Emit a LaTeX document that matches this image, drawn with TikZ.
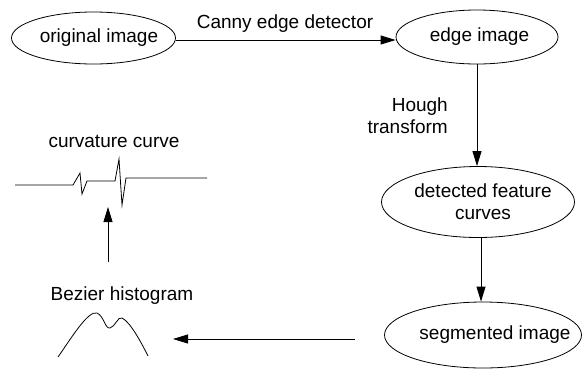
\documentclass[tikz,border=0pt]{standalone}
\usepackage{fontspec}
\setmainfont{Liberation Sans}
\usetikzlibrary{shapes.geometric,arrows.meta}
\newcommand{\zb}[2]{\makebox[0pt]{\hspace*{#1}#2}}
\begin{document}
\begin{tikzpicture}[x=1pt,y=-1pt,
  every node/.style={font=\fontsize{19}{22}\selectfont},
  ell/.style={draw,ellipse,inner sep=0pt,line width=0.8pt},
  conn/.style={line width=0.8pt,-{Triangle[length=15pt,width=9pt]}},
  lbl/.style={align=center,inner sep=0pt},
  plain/.style={line width=0.8pt}]
\useasboundingbox (0,0) rectangle (583,373);
\node[ell,minimum width=164pt,minimum height=52pt] (orig) at (93.5,38) {\zb{11pt}{original image}};
\node[ell,minimum width=162pt,minimum height=54pt] (edge) at (477,37) {\zb{5pt}{edge image}};
\node[ell,minimum width=193pt,minimum height=71pt,align=center] (det) at (478,202) {\zb{10pt}{detected feature}\\\zb{10pt}{curves}};
\node[ell,minimum width=197pt,minimum height=66pt] (seg) at (483,335) {\zb{24pt}{\raisebox{-4pt}{segmented image}}};
\node[lbl,anchor=base] (canny) at (285,28) {Canny edge detector};
\node[lbl,align=right,anchor=north east] (hough) at (448,98) {Hough\\transform};
\node[lbl,anchor=base] (bezl) at (122,300) {Bezier histogram};
\node[lbl,anchor=base] (curvl) at (114,147) {curvature curve};
\coordinate (bezarrow) at (173,339);
\coordinate (bezstart) at (355,339);
\coordinate (curvtip) at (108,207);
\coordinate (curvtail) at (108,262);
\draw[conn] (orig.east |- 0,40) -- (edge.west |- 0,40);
\draw[conn] (edge.south) -- (edge.south |- det.north);
\draw[conn] (det.south -| 481,0) -- (seg.north -| 481,0);
\draw[conn] (bezstart) -- (bezarrow);
\draw[conn] (curvtail) -- (curvtip);
\draw[plain] (58,357) .. controls (70,340) and (88,310) .. (97,313)
  .. controls (104,316) and (105,329) .. (110,328)
  .. controls (115,327) and (118,316) .. (122,318)
  .. controls (130,322) and (140,340) .. (148,356);
\draw[plain] (15,185) -- (73,185) -- (80,173) -- (82,194) -- (87,181) -- (115,181)
  -- (119,159) -- (122,205) -- (126,178) -- (207,178);
\end{tikzpicture}
\end{document}
